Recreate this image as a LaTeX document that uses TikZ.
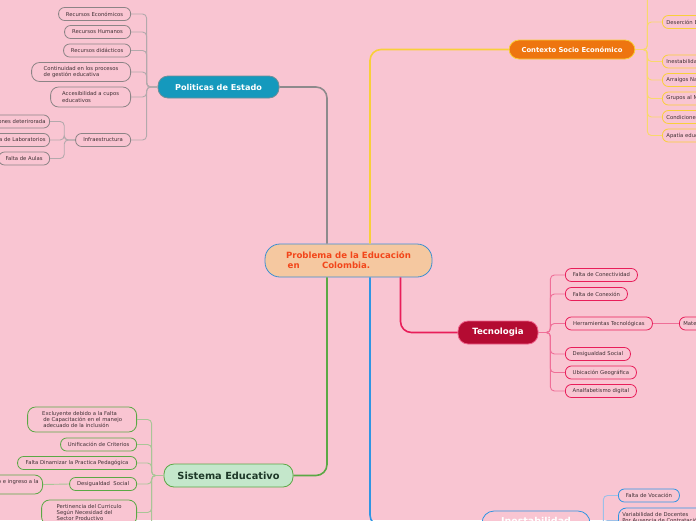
\documentclass[tikz,border=0pt]{standalone}
\usepackage{fontspec}
\setmainfont{DejaVu Sans}
\usetikzlibrary{calc}
\definecolor{bg}{HTML}{F9C5D2}
\definecolor{boxtxt}{HTML}{3F3034}
\definecolor{cpeach}{HTML}{F5C8A0}
\definecolor{cblue}{HTML}{3A8FD2}
\definecolor{corange}{HTML}{F2461A}
\definecolor{polfill}{HTML}{1599BD}
\definecolor{polborder}{HTML}{6E8E98}
\definecolor{cgray}{HTML}{8E8A8C}
\definecolor{graybox}{HTML}{8C8486}
\definecolor{grayline}{HTML}{B3A9AC}
\definecolor{csfill}{HTML}{EE750F}
\definecolor{cyellow}{HTML}{F9CF3A}
\definecolor{yellowline}{HTML}{F9D86C}
\definecolor{tecfill}{HTML}{B40B32}
\definecolor{cred}{HTML}{E81E5A}
\definecolor{redline}{HTML}{EF6F98}
\definecolor{sefill}{HTML}{C4E7CB}
\definecolor{cgreen}{HTML}{5BA845}
\definecolor{greenline}{HTML}{A9C597}
\definecolor{setxt}{HTML}{1E3828}
\definecolor{blueline}{HTML}{9CC0E8}
\definecolor{cblue2}{HTML}{2F95E3}
\begin{document}
\begin{tikzpicture}[x=1pt,y=-1pt,
  box/.style={rounded corners=6pt, line width=0.8pt, fill=bg, text=boxtxt,
    font=\fontsize{5.3}{6.3}\selectfont, inner xsep=4pt, inner ysep=0pt,
    minimum height=13pt, align=left},
  tall/.style={rounded corners=8pt},
  polbox/.style={box, draw=graybox},
  csbox/.style={box, draw=cyellow},
  tecbox/.style={box, draw=cred},
  sebox/.style={box, draw=cgreen},
  insbox/.style={box, draw=cblue2},
  mainbox/.style={line width=0.8pt, rounded corners=10pt, inner sep=0pt, align=center},
  conn/.style={line width=1.6pt, rounded corners=11pt},
  sub/.style={line width=0.9pt, rounded corners=4pt},
]
\useasboundingbox (0,0) rectangle (696,520);
\clip (0,0) rectangle (696,520);
\fill[bg] (0,0) rectangle (696,520);

% main nodes
\node[mainbox, draw=cblue, fill=cpeach, rounded corners=15pt, minimum width=167pt, minimum height=33pt,
  font=\bfseries\fontsize{8.6}{10}\selectfont, text=corange, align=left] (c) at (348.5,260.5)
  {Problema de la Educación\\\hspace{0.2em}en\hspace{2.6em}Colombia.};
\node[mainbox, draw=polborder, fill=polfill, minimum width=121pt, minimum height=22pt,
  font=\bfseries\fontsize{8.1}{9.5}\selectfont, text=white] (pe) at (218.5,87) {Politicas de Estado};
\node[mainbox, draw=cyellow, fill=csfill, minimum width=126pt, minimum height=19pt,
  font=\bfseries\fontsize{6.8}{8}\selectfont, text=white] (cs) at (572,49.5) {Contexto Socio Económico};
\node[mainbox, draw=cred!70, fill=tecfill, minimum width=80pt, minimum height=23pt,
  font=\bfseries\fontsize{8.6}{10}\selectfont, text=white] (tec) at (498,332.5) {Tecnologia};
\node[mainbox, draw=cgreen, fill=sefill, minimum width=129pt, minimum height=23pt,
  font=\bfseries\fontsize{9.8}{11}\selectfont, text=setxt] (se) at (228.5,475.5) {Sistema Educativo};
\node[mainbox, draw=cblue2, fill=bg, rounded corners=12pt, minimum width=108pt, minimum height=30pt,
  font=\bfseries\fontsize{9.5}{11}\selectfont, text=white] (ins) at (536,526) {Inestabilidad\\Docente};

% main connectors
\draw[conn, cgray] ($(c.north)+(-21.5,0)$) |- (pe.east);
\draw[conn, cyellow] ($(c.north)+(21.5,0)$) |- (cs.west);
\draw[conn, cred] ($(c.south)+(52,0)$) |- (tec.west);
\draw[conn, cgreen] ($(c.south)+(-21.5,0)$) |- (se.east);
\draw[conn, cblue2] ($(c.south)+(21.5,0)$) |- (ins.west);

% Politicas de Estado children
\node[polbox, anchor=east, minimum width=72pt] (p1) at (131,14) {Recursos Económicos};
\node[polbox, anchor=east, minimum width=66pt] (p2) at (131,32) {Recursos Humanos};
\node[polbox, anchor=east, minimum width=67pt] (p3) at (131,50.5) {Recursos didácticos};
\node[polbox, tall, anchor=east, minimum width=99pt, minimum height=19pt] (p4) at (131,72) {Continuidad en los procesos\\de gestión educativa};
\node[polbox, tall, anchor=east, minimum width=80pt, minimum height=20pt] (p5) at (131,97) {Accesibilidad a cupos\\educativos};
\node[polbox, anchor=east, minimum width=55pt] (p6) at (131,140) {Infraestructura};
\foreach \n in {p1,p2,p3,p4,p5,p6}
  \draw[sub, grayline] (pe.west) -- ++(-11,0) |- (\n.east);

\node[polbox, anchor=east] (i1) at (50,121.5) {Instalaciones deterirorada};
\node[polbox, anchor=east] (i2) at (50,140) {Falta de Laboratorios};
\node[polbox, anchor=east, minimum width=51pt] (i3) at (50,158.5) {Falta de Aulas};
\foreach \n in {i1,i2,i3}
  \draw[sub, grayline] (p6.west) -- ++(-11,0) |- (\n.east);

% Contexto children
\coordinate (k0) at (662,-12);
\node[csbox, anchor=west] (k1) at (662,22) {Deserción Escolar};
\node[csbox, anchor=west] (k2) at (662,61.5) {Inestabilidad Laboral};
\node[csbox, anchor=west] (k3) at (662,80) {Arraigos Naturales};
\node[csbox, anchor=west] (k4) at (662,98.5) {Grupos al Margen de la Ley};
\node[csbox, anchor=west] (k5) at (662,117) {Condiciones Económicas};
\node[csbox, anchor=west] (k6) at (662,135.5) {Apatía educativa};
\draw[sub, yellowline] (cs.east) -- ++(12,0) |- (k0);
\foreach \n in {k1,k2,k3,k4,k5,k6}
  \draw[sub, yellowline] (cs.east) -- ++(12,0) |- (\n.west);

% Tecnologia children
\node[tecbox, anchor=west, minimum width=72pt] (t1) at (565,275) {Falta de Conectividad};
\node[tecbox, anchor=west, minimum width=62pt] (t2) at (565,294) {Falta de Conexión};
\node[tecbox, anchor=west, minimum width=87pt] (t3) at (565,323.5) {Herramientas Tecnológicas};
\node[tecbox, anchor=west, minimum width=65pt] (t4) at (565,354) {Desigualdad Social};
\node[tecbox, anchor=west, minimum width=71pt] (t5) at (565,372.5) {Ubicación Geográfica};
\node[tecbox, anchor=west, minimum width=71pt] (t6) at (565,391) {Analfabetismo digital};
\foreach \n in {t1,t2,t3,t4,t5,t6}
  \draw[sub, redline] (tec.east) -- ++(12,0) |- (\n.west);
\node[tecbox, anchor=west] (mat) at (679,323.5) {Material Didáctico};
\draw[sub, redline] (t3.east) -- (mat.west);

% Sistema Educativo children
\node[sebox, tall, anchor=east, minimum width=109pt, minimum height=25pt] (s1) at (137,419.5) {Excluyente debido a la Falta\\\hspace{0.2em}de Capacitación en el manejo\\\hspace{0.2em}adecuado de la inclusión};
\node[sebox, anchor=east, minimum width=76pt] (s2) at (137,444.5) {Unificación de Criterios};
\node[sebox, anchor=east, minimum width=119pt] (s3) at (137,463) {Falta Dinamizar la Practica Pedagógica};
\node[sebox, anchor=east, minimum width=67pt] (s4) at (137,484) {Desigualdad\ \ Social};
\node[sebox, tall, anchor=east, minimum width=95pt, minimum height=25pt] (s5) at (137,512.5) {Pertinencia del Curriculo\\Según Necesidad del\\Sector Productivo};
\coordinate (s6) at (137,545);
\foreach \n in {s1,s2,s3,s4,s5}
  \draw[sub, greenline] (se.west) -- ++(-12,0) |- (\n.east);
\draw[sub, greenline] (se.west) -- ++(-12,0) |- (s6);
\node[sebox, tall, anchor=east, minimum height=19pt] (ing) at (43,484.5) {Falta de acceso e ingreso a la\\educación};
\draw[sub, greenline] (s4.west) -- (ing.east);

% Inestabilidad children
\node[insbox, anchor=west, minimum width=61pt] (v1) at (618,495.5) {Falta de Vocación};
\node[insbox, tall, anchor=west, minimum height=25pt] (v2) at (618,520.5) {Variabilidad de Docentes\\Por Ausencia de Contratación\\Permanente};
\foreach \n in {v1,v2}
  \draw[sub, blueline] (ins.east) -- ++(13,0) |- (\n.west);
\end{tikzpicture}
\end{document}
